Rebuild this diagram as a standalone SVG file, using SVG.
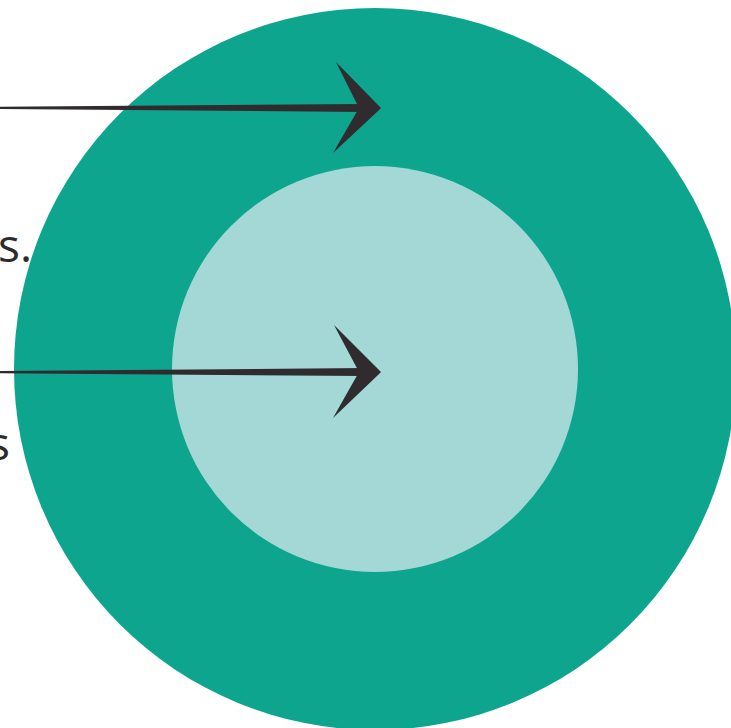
<svg xmlns="http://www.w3.org/2000/svg" width="731" height="728" viewBox="0 0 731 728">
<style>
.lbl{font-family:"Open Sans","Liberation Sans",sans-serif;font-size:46px;fill:#2b2b2b;text-anchor:end}
.arw{fill:#2f2b2e}
</style>
<rect width="731" height="728" fill="#ffffff"/>
<g id="outer"><circle cx="375" cy="369" r="361" fill="#0ea58e"/></g>
<g id="inner"><circle cx="375" cy="369" r="203" fill="#a3d8d6"/></g>
<g id="labels">
<text class="lbl" x="32" y="262">s.</text>
<text class="lbl" x="10" y="460">s</text>
</g>
<g id="connectors">
<polygon class="arw" points="0,106.8 0,109 365,112 365,104"/>
<polygon class="arw" points="336,62 378,105 381,108 378,111 333,153 359,108"/>
<polygon class="arw" points="0,371 0,373.2 365,376 365,368"/>
<polygon class="arw" points="334,325 378,369 381,372 378,375 333,418 359,372"/>
</g>
</svg>
